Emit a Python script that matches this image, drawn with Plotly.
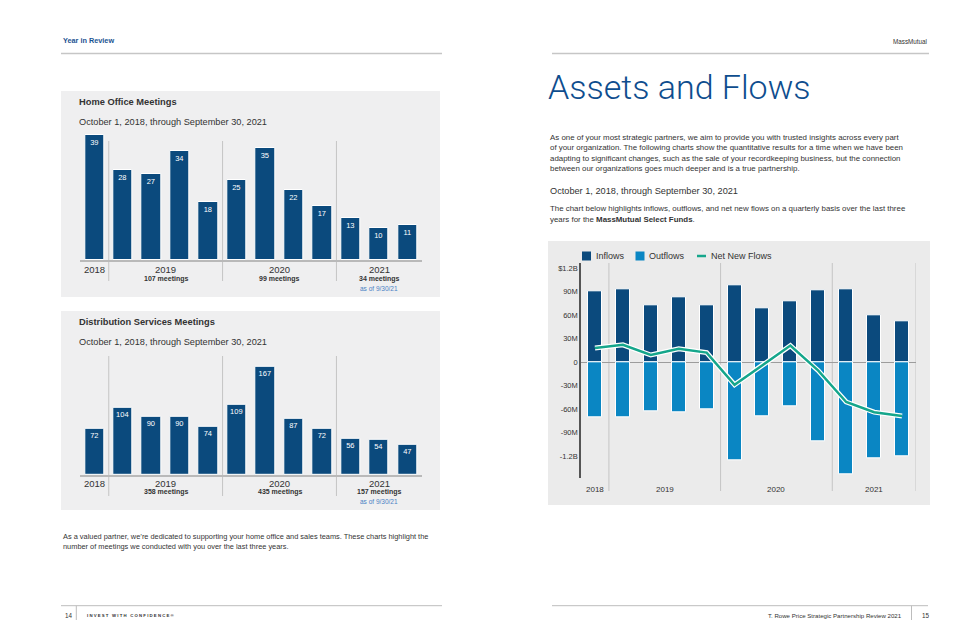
import plotly.graph_objects as go

W, H = 975, 631

# ---------------- data ----------------
quarters = ["Q4 2018", "Q1 2019", "Q2 2019", "Q3 2019", "Q4 2019", "Q1 2020",
            "Q2 2020", "Q3 2020", "Q4 2020", "Q1 2021", "Q2 2021", "Q3 2021"]
home_office = [39, 28, 27, 34, 18, 25, 35, 22, 17, 13, 10, 11]
distribution = [72, 104, 90, 90, 74, 109, 167, 87, 72, 56, 54, 47]
years = ["2018", "2019", "2020", "2021"]
home_totals = ["", "107 meetings", "99 meetings", "34 meetings"]
dist_totals = ["", "358 meetings", "435 meetings", "157 meetings"]
as_of_note = "as of 9/30/21"

inflows = [90, 93, 73, 83, 72, 98, 68, 78, 92, 93, 60, 52]
outflows = [-71, -70, -63, -64, -60, -125, -69, -57, -101, -143, -123, -120]
net_new = [18, 22, 9, 17, 12, -29, -4, 21, -11, -51, -64, -69]
flow_tick_vals = [-120, -90, -60, -30, 0, 30, 60, 90, 120]
flow_tick_text = ["-1.2B", "-90M", "-60M", "-30M", "0", "30M", "60M", "90M", "$1.2B"]

# ---------------- helpers ----------------
def X(px):
    return px / W

def Y(py):
    return 1 - py / H

q_year = [q.split()[1] for q in quarters]
year_pos = [sum(i for i, y in enumerate(q_year) if y == yr) /
            sum(1 for y in q_year if y == yr) for yr in years]
boundaries = [i - 0.5 for i in range(1, len(q_year)) if q_year[i] != q_year[i - 1]]

FONT = "Liberation Sans, Arial, Helvetica, sans-serif"
NAVY = "#0b4a7d"
LIGHTBLUE = "#0a86c3"
TEAL = "#15a68b"
TXT = "#333333"
TITLEBLUE = "#0e4d8e"

fig = go.Figure()

# bars: home office
fig.add_trace(go.Bar(x=quarters, y=home_office, xaxis="x", yaxis="y",
                     marker=dict(color=NAVY, line=dict(color="white", width=1)),
                     width=0.68, text=home_office, textposition="inside",
                     insidetextanchor="end", textangle=0,
                     textfont=dict(size=7.5, color="white", family=FONT),
                     showlegend=False, hoverinfo="x+y"))
# bars: distribution
fig.add_trace(go.Bar(x=quarters, y=distribution, xaxis="x2", yaxis="y2",
                     marker=dict(color=NAVY, line=dict(color="white", width=1)),
                     width=0.68, text=distribution, textposition="inside",
                     insidetextanchor="end", textangle=0,
                     textfont=dict(size=7.5, color="white", family=FONT),
                     showlegend=False, hoverinfo="x+y"))
# flows
fig.add_trace(go.Bar(x=quarters, y=inflows, xaxis="x3", yaxis="y3", name="Inflows",
                     marker=dict(color=NAVY, line=dict(color="white", width=1)),
                     width=0.5, showlegend=False))
fig.add_trace(go.Bar(x=quarters, y=outflows, xaxis="x3", yaxis="y3", name="Outflows",
                     marker=dict(color=LIGHTBLUE, line=dict(color="white", width=1)),
                     width=0.5, showlegend=False))
fig.add_trace(go.Scatter(x=quarters, y=net_new, xaxis="x3", yaxis="y3", mode="lines",
                         line=dict(color="white", width=5), showlegend=False,
                         hoverinfo="skip"))
fig.add_trace(go.Scatter(x=quarters, y=net_new, xaxis="x3", yaxis="y3", mode="lines",
                         name="Net New Flows", line=dict(color=TEAL, width=2.5),
                         showlegend=False))

shapes = []
ann = []

def text(x, y, s, size, color=TXT, anchor="left", bold=False, family=FONT, weight=None):
    f = dict(size=size, color=color, family=family)
    if weight is not None:
        f["weight"] = weight
    ann.append(dict(xref="paper", yref="paper", x=X(x), y=Y(y), text=("<b>%s</b>" % s) if bold else s,
                    showarrow=False, xanchor=anchor, yanchor="middle", font=f))

def hline(x0, x1, y, color="#c6c6c6", width=1.5):
    shapes.append(dict(type="line", xref="paper", yref="paper", x0=X(x0), x1=X(x1),
                       y0=Y(y), y1=Y(y), line=dict(color=color, width=width), layer="below"))

def vline(x, y0, y1, color="#c6c6c6", width=1):
    shapes.append(dict(type="line", xref="paper", yref="paper", x0=X(x), x1=X(x),
                       y0=Y(y0), y1=Y(y1), line=dict(color=color, width=width), layer="below"))

# panels
for (x0, y0, x1, y1, c) in [(53, 83, 432, 289, "#efeff0"), (53, 303, 432, 502, "#efeff0"),
                            (540, 233, 922, 497, "#ebebeb")]:
    shapes.append(dict(type="rect", xref="paper", yref="paper", x0=X(x0), x1=X(x1),
                       y0=Y(y1), y1=Y(y0), fillcolor=c, line=dict(width=0), layer="below"))

# year separators
for xref, y0, y1, extra in [("x", 133, 273, []), ("x2", 348, 488, []),
                            ("x3", 255, 483, [len(quarters) - 0.5])]:
    for b in boundaries + extra:
        shapes.append(dict(type="line", xref=xref, yref="paper", x0=b, x1=b,
                           y0=Y(y1), y1=Y(y0), line=dict(color="#c4c4c4", width=1), layer="below"))

# header / footer
text(53, 33, "Year in Review", 7.3, color="#1b5392", bold=True)
hline(53, 434, 45.5)
text(921, 33.5, "MassMutual", 6.3, anchor="right")
hline(544, 921, 45.5)
hline(53, 434, 597.7, color="#bdbdbd", width=1)
vline(68.3, 597.7, 612, color="#bdbdbd")
text(55, 607.5, "14", 6.3)
text(76.5, 607.5, "I N V E S T   W I T H   C O N F I D E N C E ®", 4.3, bold=True)
hline(544, 920, 597.7, color="#bdbdbd", width=1)
vline(903.5, 597.7, 612, color="#bdbdbd")
text(896, 607.5, "T. Rowe Price Strategic Partnership Review 2021", 6.1, anchor="right")
text(911.5, 607.5, "15", 6.3)

# left chart titles
text(69, 94.3, "Home Office Meetings", 9.3, bold=True)
text(69, 113.5, "October 1, 2018, through September 30, 2021", 9.2)
text(69, 314.3, "Distribution Services Meetings", 9.3, bold=True)
text(69, 333.5, "October 1, 2018, through September 30, 2021", 9.2)

for xr, yy, totals in [("x", (261.7, 270.7, 280), home_totals), ("x2", (475, 484, 493.3), dist_totals)]:
    for i, yr in enumerate(years):
        ann.append(dict(xref=xr, yref="paper", x=year_pos[i], y=Y(yy[0]), text=yr, showarrow=False,
                        xanchor="center", yanchor="middle", font=dict(size=9.5, color=TXT, family=FONT)))
        if totals[i]:
            ann.append(dict(xref=xr, yref="paper", x=year_pos[i], y=Y(yy[1]), text="<b>%s</b>" % totals[i],
                            showarrow=False, xanchor="center", yanchor="middle",
                            font=dict(size=7, color=TXT, family=FONT)))
    ann.append(dict(xref=xr, yref="paper", x=year_pos[-1], y=Y(yy[2]), text=as_of_note, showarrow=False,
                    xanchor="center", yanchor="middle", font=dict(size=6.5, color="#4a80c4", family=FONT)))

text(53, 528.3, "As a valued partner, we\u2019re dedicated to supporting your home office and sales teams. These charts highlight the", 7.4)
text(53, 538.8, "number of meetings we conducted with you over the last three years.", 7.4)

# right page text
text(538, 79, "Assets and Flows", 34, color=TITLEBLUE, family="Roboto, Liberation Sans, sans-serif", weight=300)
para = ["As one of your most strategic partners, we aim to provide you with trusted insights across every part",
        "of your organization. The following charts show the quantitative results for a time when we have been",
        "adapting to significant changes, such as the sale of your recordkeeping business, but the connection",
        "between our organizations goes much deeper and is a true partnership."]
for i, line in enumerate(para):
    text(540, 129.3 + i * 10.35, line, 7.9)
text(540, 182.7, "October 1, 2018, through September 30, 2021", 9.2)
text(540, 200.7, "The chart below highlights inflows, outflows, and net new flows on a quarterly basis over the last three", 7.9)
text(540, 211.1, "years for the <b>MassMutual Select Funds</b>.", 7.9)

# flows legend
legend_items = [("Inflows", NAVY, "sq", 574), ("Outflows", LIGHTBLUE, "sq", 627.5), ("Net New Flows", TEAL, "ln", 689)]
for name, col, kind, lx in legend_items:
    if kind == "sq":
        shapes.append(dict(type="rect", xref="paper", yref="paper", x0=X(lx), x1=X(lx + 9),
                           y0=Y(252.5), y1=Y(243.5), fillcolor=col, line=dict(width=0)))
    else:
        shapes.append(dict(type="line", xref="paper", yref="paper", x0=X(lx), x1=X(lx + 9),
                           y0=Y(248), y1=Y(248), line=dict(color=col, width=2.5)))
    text(lx + 11.5, 248, name, 9)

# flows year labels
for i, yr in enumerate(years):
    ann.append(dict(xref="x3", yref="paper", x=year_pos[i], y=Y(481.7), text=yr, showarrow=False,
                    xanchor="center", yanchor="middle", font=dict(size=8, color=TXT, family=FONT)))

hidden_x = dict(showgrid=False, zeroline=False, showticklabels=False, ticks="",
                range=[-0.5, len(quarters) - 0.5], fixedrange=True)

fig.update_layout(
    width=W, height=H, autosize=False,
    margin=dict(l=0, r=0, t=0, b=0),
    paper_bgcolor="white", plot_bgcolor="rgba(0,0,0,0)",
    barmode="relative", bargap=0,
    font=dict(family=FONT, color=TXT),
    showlegend=False,
    xaxis=dict(hidden_x, domain=[X(72.3), X(413.8)], anchor="y", showline=True,
               linecolor="#b9b9b9", linewidth=2),
    yaxis=dict(domain=[Y(252), Y(124)], range=[0, 40], visible=False, anchor="x"),
    xaxis2=dict(hidden_x, domain=[X(72.3), X(413.8)], anchor="y2", showline=True,
                linecolor="#b9b9b9", linewidth=2),
    yaxis2=dict(domain=[Y(467), Y(353.8)], range=[0, 175], visible=False, anchor="x2"),
    xaxis3=dict(hidden_x, domain=[X(573), X(908)], anchor="y3", showline=False),
    yaxis3=dict(domain=[Y(470), Y(255.3)], range=[-148, 126], anchor="x3",
                tickvals=flow_tick_vals, ticktext=flow_tick_text, ticks="",
                tickfont=dict(size=7.5, color=TXT, family=FONT),
                showgrid=False, showline=True, linecolor="#555555", linewidth=1.5,
                zeroline=True, zerolinecolor="#9c9c9c", zerolinewidth=1, fixedrange=True),
    shapes=shapes, annotations=ann,
)

fig.write_html("out.html")
